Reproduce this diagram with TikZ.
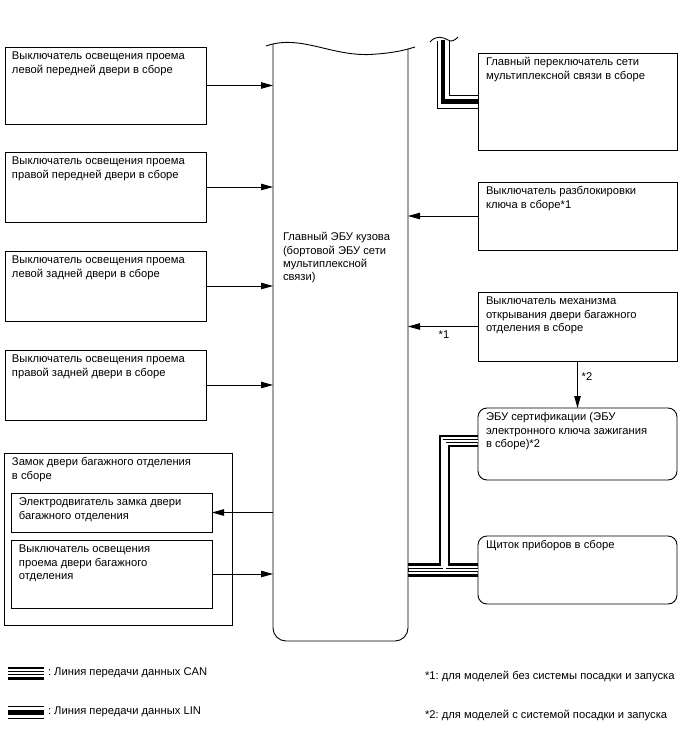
\documentclass[tikz,border=0pt]{standalone}
\usepackage{fontspec}
\setmainfont{Liberation Sans}
\usetikzlibrary{arrows.meta}
\frenchspacing
\begin{document}
\begin{tikzpicture}[x=1pt,y=-1pt,
  bx/.style={draw, line width=0.9pt, anchor=north west, inner sep=0pt, outer sep=0pt},
  rbx/.style={bx, rounded corners=9pt},
  txt/.style={anchor=north west, inner sep=0pt, outer sep=0pt, align=left, font=\fontsize{11.2}{13.3}\selectfont\frenchspacing},
  arr/.style={line width=0.9pt, -{Triangle[length=12pt,width=6.5pt]}},
  canthick/.style={line width=2.5pt},
  canwide/.style={line width=3.6pt},
  cancore/.style={line width=2.2pt, white},
  linthin/.style={line width=0.9pt},
  linthick/.style={line width=4.5pt},
]
\useasboundingbox (0,0) rectangle (688,755);
\fill[white] (0,0) rectangle (688,755);

% left boxes
\node[bx, minimum width=201pt, minimum height=77pt] (b1) at (5,47) {};
\node[txt] (t1) at ([shift={(7,4)}]b1.north west) {\rule{0pt}{8.8pt}Выключатель освещения проема\\левой передней двери в сборе};
\node[bx, minimum width=201pt, minimum height=70pt] (b2) at (5,152) {};
\node[txt] (t2) at ([shift={(7,4)}]b2.north west) {\rule{0pt}{8.8pt}Выключатель освещения проема\\правой передней двери в сборе};
\node[bx, minimum width=201pt, minimum height=70pt] (b3) at (5,251) {};
\node[txt] (t3) at ([shift={(7,4)}]b3.north west) {\rule{0pt}{8.8pt}Выключатель освещения проема\\левой задней двери в сборе};
\node[bx, minimum width=201pt, minimum height=70pt] (b4) at (5,350) {};
\node[txt] (t4) at ([shift={(7,4)}]b4.north west) {\rule{0pt}{8.8pt}Выключатель освещения проема\\правой задней двери в сборе};

\node[bx, minimum width=228pt, minimum height=172pt] (zb) at (4,453) {};
\node[txt] (tzb) at ([shift={(8,4)}]zb.north west) {\rule{0pt}{8.8pt}Замок двери багажного отделения\\в сборе};
\node[bx, minimum width=201pt, minimum height=39pt] (m1) at (11,493) {};
\node[txt] (tm1) at ([shift={(8,4)}]m1.north west) {\rule{0pt}{8.8pt}Электродвигатель замка двери\\багажного отделения};
\node[bx, minimum width=201pt, minimum height=68pt] (m2) at (11,540) {};
\node[txt] (tm2) at ([shift={(8,4)}]m2.north west) {\rule{0pt}{8.8pt}Выключатель освещения\\проема двери багажного\\отделения};

% central ECU
\node[anchor=north west, inner sep=0pt, outer sep=0pt, minimum width=135pt, minimum height=596pt] (ecu) at (273,45) {};
\draw[line width=0.9pt, rounded corners=13pt] (273,43.9) -- (273,641) -- (408,641) -- (408,48.8);
\draw[line width=0.9pt] (266,46) .. controls (300,34) and (330,56) .. (370,54.5) .. controls (395,53) and (405,50) .. (415,47);
\node[txt] (tecu) at (283,232) {\rule{0pt}{8.8pt}Главный ЭБУ кузова\\(бортовой ЭБУ сети\\мультиплексной\\связи)};

% right boxes
\node[bx, minimum width=199pt, minimum height=97pt] (ms) at (478,53) {};
\node[txt] (tms) at ([shift={(8,4)}]ms.north west) {\rule{0pt}{8.8pt}Главный переключатель сети\\мультиплексной связи в сборе};
\node[bx, minimum width=199pt, minimum height=68pt] (ku) at (478,182) {};
\node[txt] (tku) at ([shift={(8,4)}]ku.north west) {\rule{0pt}{8.8pt}Выключатель разблокировки\\ключа в сборе*1};
\node[bx, minimum width=199pt, minimum height=69pt] (to) at (478,292) {};
\node[txt] (tto) at ([shift={(8,4)}]to.north west) {\rule{0pt}{8.8pt}Выключатель механизма\\открывания двери багажного\\отделения в сборе};
\node[rbx, minimum width=199pt, minimum height=72pt] (cert) at (478,408) {};
\node[txt] (tcert) at ([shift={(8,4)}]cert.north west) {\rule{0pt}{8.8pt}ЭБУ сертификации (ЭБУ\\электронного ключа зажигания\\в сборе)*2};
\node[rbx, minimum width=199pt, minimum height=68pt] (sh) at (478,536) {};
\node[txt] (tsh) at ([shift={(8,4)}]sh.north west) {\rule{0pt}{8.8pt}Щиток приборов в сборе};

% arrows
\draw[arr] (b1.east) -- (b1.east -| ecu.west);
\draw[arr] (b2.east) -- (b2.east -| ecu.west);
\draw[arr] (b3.east) -- (b3.east -| ecu.west);
\draw[arr] (b4.east) -- (b4.east -| ecu.west);
\draw[arr] (ecu.west |- m1.east) -- (m1.east);
\draw[arr] (m2.east) -- (m2.east -| ecu.west);
\draw[arr] (ku.west) -- (ku.west -| ecu.east);
\draw[arr] (to.west) -- (to.west -| ecu.east);
\node[txt, anchor=center] (n1) at ([shift={(-34,8.5)}]to.west) {*1};
\draw[arr] (to.south) -- (cert.north);
\node[txt, anchor=center] (n2) at ([shift={(9.5,16)}]to.south) {*2};

% LIN bus
\coordinate (lA) at ([yshift=-6.5pt]ms.west);
\coordinate (lC) at ([yshift=6.5pt]ms.west);
\coordinate (tA) at (437,41);
\coordinate (tB) at (443,40);
\coordinate (tC) at (449,40.5);
\draw[linthin] (tA) -- (tA |- lA) -- (lA);
\draw[linthick] (tB) -- (tB |- ms.west) -- (ms.west);
\draw[linthin] (tC) -- (tC |- lC) -- (lC);
\draw[linthin] (430,42) .. controls (436,35) and (443,37) .. (448,40) .. controls (452,42.5) and (455,40) .. (458,37);

% CAN bus
\coordinate (sA) at ([yshift=5.5pt]sh.west);
\coordinate (sB) at (sh.west);
\coordinate (sC) at ([yshift=-5.5pt]sh.west);
\coordinate (cA) at ([yshift=8pt]cert.west);
\coordinate (cB) at ([yshift=3pt]cert.west);
\coordinate (cC) at ([yshift=-2pt]cert.west);
\coordinate (vA) at ([xshift=32pt]ecu.east);
\coordinate (vB) at ([xshift=36.5pt]ecu.east);
\coordinate (vC) at ([xshift=41pt]ecu.east);
\draw[canthick] (sA -| ecu.east) -- (sA -| vA) -- (cA -| vA) -- (cA);
\draw[canthick] (cC) -- (cC -| vC) -- (sA -| vC) -- (sA);
\draw[canthick] (sC -| ecu.east) -- (sC);
\draw[canwide] (sB -| ecu.east) -- (sB) (sB -| vB) -- (cB -| vB) -- (cB);
\draw[cancore, shorten <=0.5pt, shorten >=0.5pt] (sB -| ecu.east) -- (sB);
\draw[cancore, shorten >=0.5pt] (sB -| vB) -- (cB -| vB) -- (cB);

% legend
\draw[canthick] (8,668) -- (44,668);
\draw[canwide] (8,673) -- (44,673);
\draw[cancore] (8,673) -- (44,673);
\draw[canthick] (8,678.5) -- (44,678.5);
\node[txt, anchor=west] (lcan) at (48,673) {: Линия передачи данных CAN};
\draw[linthin] (8,706) -- (44,706);
\draw[line width=5pt] (8,712) -- (44,712);
\draw[linthin] (8,718) -- (44,718);
\node[txt, anchor=west] (llin) at (48,712) {: Линия передачи данных LIN};
\node[txt, anchor=west] (f1) at (425,676) {*1: для моделей без системы посадки и запуска};
\node[txt, anchor=west] (f2) at (425,715) {*2: для моделей с системой посадки и запуска};
\end{tikzpicture}
\end{document}
